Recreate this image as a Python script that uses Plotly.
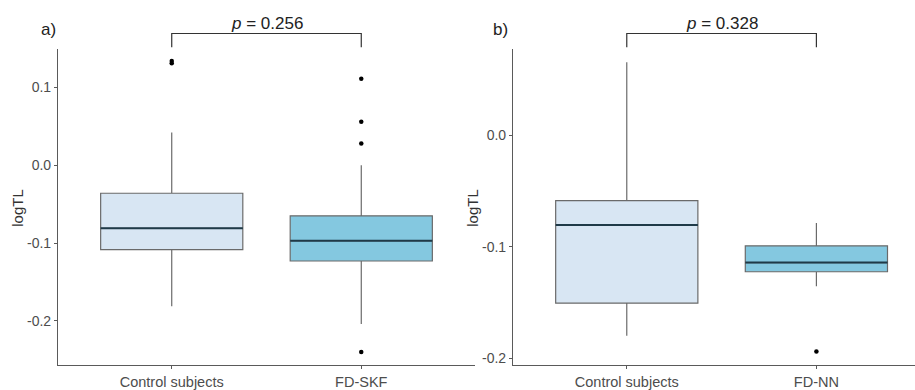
import plotly.graph_objects as go

# ---------------- data ----------------
labels_a = ["Control subjects", "FD-SKF"]
q1_a = [-0.1085, -0.123]
median_a = [-0.081, -0.097]
q3_a = [-0.036, -0.065]
lowfence_a = [-0.181, -0.204]
upfence_a = [0.042, 0.0]
outliers_a_ctrl = [0.131, 0.134]
outliers_a_fd = [0.111, 0.056, 0.028, -0.240]
p_a = "0.256"

labels_b = ["Control subjects", "FD-NN"]
q1_b = [-0.1507, -0.1224]
median_b = [-0.0805, -0.1142]
q3_b = [-0.0584, -0.0991]
lowfence_b = [-0.1799, -0.1354]
upfence_b = [0.0658, -0.0785]
outliers_b_ctrl = []
outliers_b_fd = [-0.1941]
p_b = "0.328"

yticks_a = [-0.2, -0.1, 0.0, 0.1]
yticks_b = [-0.2, -0.1, 0.0]

# ---------------- style ----------------
FILLS = ["#D8E6F3", "#84C8E0"]
BOX_LINE = "#6a6a6a"
MED_LINE = "#1f3a48"
AXIS_COL = "#5a5a5a"
TICK_COL = "#4d4d4d"
FONT = "Liberation Sans, Arial, sans-serif"
BOXW = 0.75

W, H = 915, 390
ytop = (H - 50) / H
ybot = (H - 371) / H
# bracket (paper y levels, from pixel rows)
BR_LOW = (H - 48) / H
BR_HIGH = (H - 34) / H

fig = go.Figure()
shapes = []


def add_panel(xa, ya, q1, med, q3, lo, hi, outs):
    xs = [1, 2]
    for i in range(2):
        fig.add_trace(go.Box(
            x=[xs[i]], q1=[q1[i]], median=[med[i]], q3=[q3[i]],
            lowerfence=[lo[i]], upperfence=[hi[i]],
            width=BOXW, whiskerwidth=0, fillcolor=FILLS[i],
            line=dict(color=BOX_LINE, width=1.2),
            boxpoints=False, showlegend=False,
            xaxis=xa, yaxis=ya, hoverinfo="skip"))
        fig.add_trace(go.Scatter(
            x=[xs[i] - BOXW / 2, xs[i] + BOXW / 2], y=[med[i], med[i]],
            mode="lines", line=dict(color=MED_LINE, width=2),
            showlegend=False, xaxis=xa, yaxis=ya, hoverinfo="skip"))
        if outs[i]:
            fig.add_trace(go.Scatter(
                x=[xs[i]] * len(outs[i]), y=outs[i], mode="markers",
                marker=dict(color="black", size=4.5),
                showlegend=False, xaxis=xa, yaxis=ya, hoverinfo="skip"))
    shapes.append(dict(type="path", xref=xa, yref="paper",
                       path=f"M 1 {BR_LOW} L 1 {BR_HIGH} L 2 {BR_HIGH} L 2 {BR_LOW}",
                       line=dict(color="#333333", width=1.2)))


add_panel("x", "y", q1_a, median_a, q3_a, lowfence_a, upfence_a,
          [outliers_a_ctrl, outliers_a_fd])
add_panel("x2", "y2", q1_b, median_b, q3_b, lowfence_b, upfence_b,
          [outliers_b_ctrl, outliers_b_fd])

axis_common = dict(showline=True, linecolor=AXIS_COL, linewidth=1.2,
                   ticks="outside", ticklen=3, tickcolor=AXIS_COL,
                   showgrid=False, zeroline=False, mirror=False)

fig.update_layout(
    width=W, height=H, margin=dict(l=0, r=0, t=0, b=0),
    plot_bgcolor="white", paper_bgcolor="white",
    font=dict(family=FONT, color=TICK_COL),
    shapes=shapes,
    xaxis=dict(domain=[58 / W, 475 / W], range=[0.4, 2.6],
               tickvals=[1, 2], ticktext=labels_a,
               tickfont=dict(size=14.5, color=TICK_COL), **axis_common),
    yaxis=dict(domain=[ybot, ytop], range=[-0.257, 0.149],
               tickvals=yticks_a, ticktext=[f"{v:.1f}" for v in yticks_a],
               tickfont=dict(size=14, color=TICK_COL), **axis_common),
    xaxis2=dict(domain=[513 / W, 1.0], range=[0.4, 2.52], anchor="y2",
                tickvals=[1, 2], ticktext=labels_b,
                tickfont=dict(size=14.5, color=TICK_COL), **axis_common),
    yaxis2=dict(domain=[ybot, ytop], range=[-0.2065, 0.0776], anchor="x2",
                tickvals=yticks_b, ticktext=[f"{v:.1f}" for v in yticks_b],
                tickfont=dict(size=14, color=TICK_COL), **axis_common),
)

ann = []
for xc, lab in [(48 / W, "a)"), (500 / W, "b)")]:
    ann.append(dict(x=xc, y=(H - 30) / H, xref="paper", yref="paper",
                    text=lab, showarrow=False, xanchor="center", yanchor="middle",
                    font=dict(size=17, color="#222222", family=FONT)))
for xc in [18 / W, 473 / W]:
    ann.append(dict(x=xc, y=(H - 211) / H, xref="paper", yref="paper",
                    text="logTL", textangle=-90, showarrow=False,
                    xanchor="center", yanchor="middle",
                    font=dict(size=15, color="#333333", family=FONT)))
for xr, pv in [("x", p_a), ("x2", p_b)]:
    ann.append(dict(x=1.5, y=(H - 24) / H, xref=xr, yref="paper",
                    text=f"<i>p</i> = {pv}", showarrow=False,
                    xanchor="center", yanchor="middle",
                    font=dict(size=17, color="#222222", family=FONT)))
fig.update_layout(annotations=ann)

fig.write_html("out.html", config={"displayModeBar": False})

# remove default body margin so the 915x390 figure sits at the window origin
with open("out.html", "r", encoding="utf-8") as f:
    html = f.read()
html = html.replace("<body>", '<body style="margin:0;padding:0;overflow:hidden">', 1)
with open("out.html", "w", encoding="utf-8") as f:
    f.write(html)
